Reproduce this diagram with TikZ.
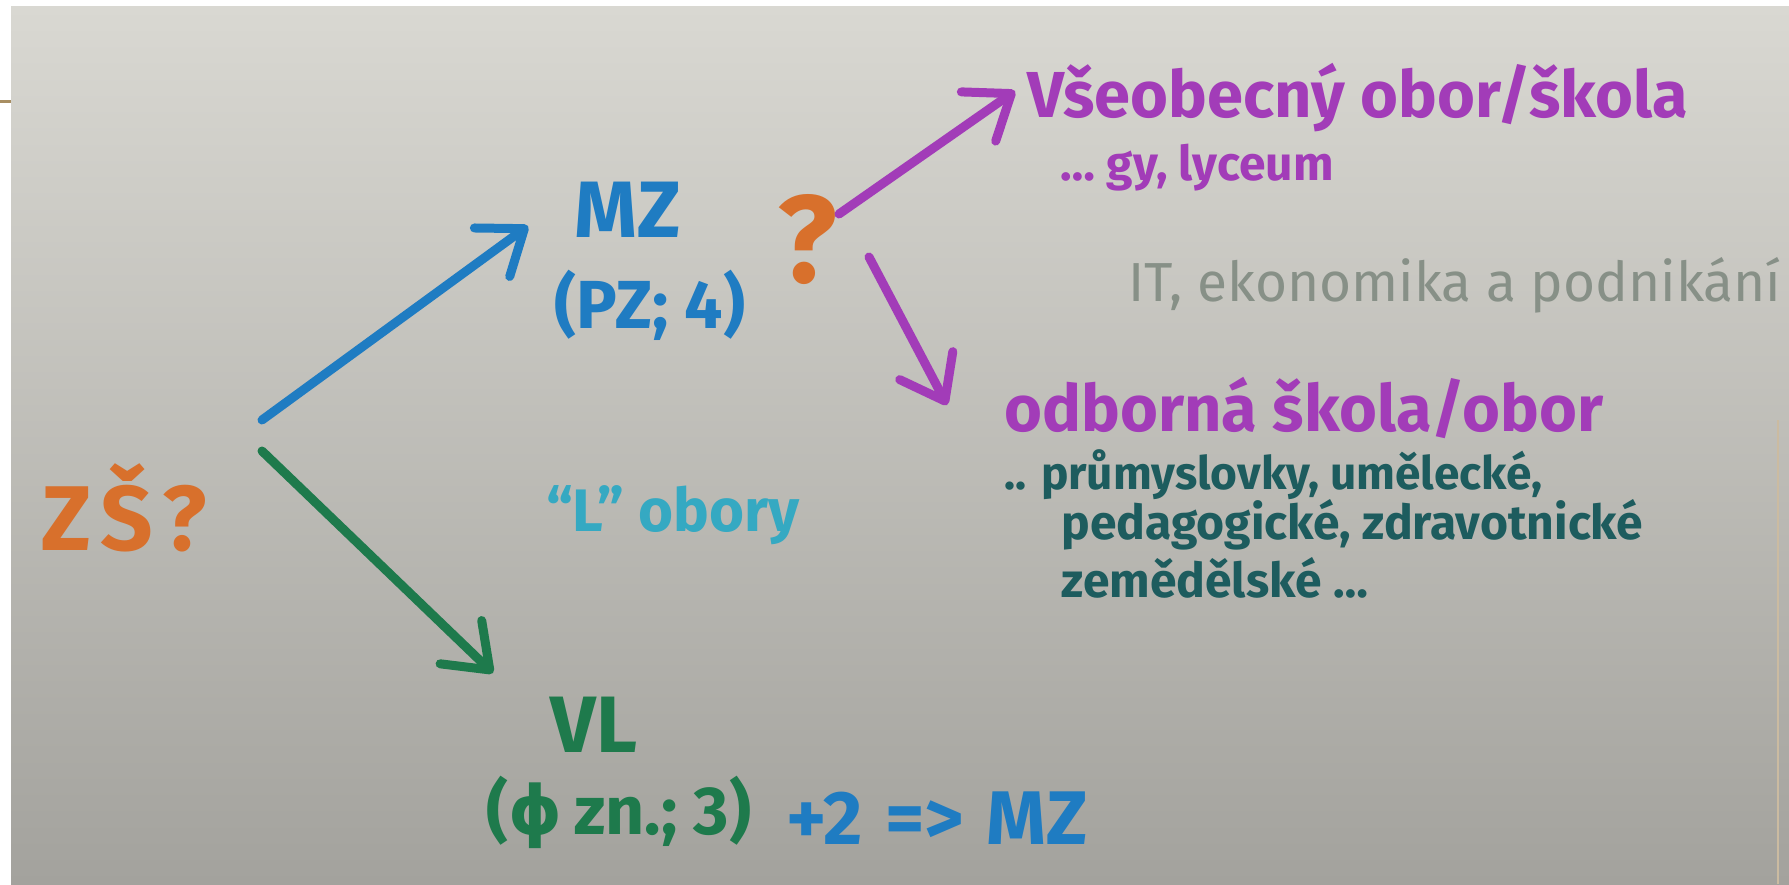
\documentclass[tikz,border=0pt]{standalone}
\usepackage{fontspec}
\setmainfont{Fira Sans}
\newfontfamily\symf{DejaVu Sans}
\usetikzlibrary{arrows.meta,calc}
\definecolor{bgtop}{HTML}{D9D8D2}
\definecolor{bgmid}{HTML}{CBC9C4}
\definecolor{bgbot}{HTML}{A3A29D}
\definecolor{penorange}{HTML}{D8702C}
\definecolor{penblue}{HTML}{1F7CC2}
\definecolor{penpurple}{HTML}{A23CB8}
\definecolor{pengreen}{HTML}{1E7A4C}
\definecolor{pendteal}{HTML}{1D5C5E}
\definecolor{penlteal}{HTML}{35A9C2}
\definecolor{pengrey}{HTML}{879087}
\definecolor{frame}{HTML}{A88E62}
\tikzset{
  hand/.style={inner sep=0pt, font=\bfseries},
  penarrow/.style={line width=4.5pt, line cap=round,
    -{Straight Barb[length=20pt,width=30pt,line cap=round,line join=round]}},
}
\begin{document}
\begin{tikzpicture}[x=0.5pt,y=-0.5pt]
\useasboundingbox (0,0) rectangle (1789,884);
\fill[white] (0,0) rectangle (1789,884);
\shade[top color=bgtop, middle color=bgmid, bottom color=bgbot] (11,6) rectangle (1789,884);
\draw[frame, line width=1.5pt] (0,101) -- (11,101);
\draw[frame!60, line width=1pt] (1778,420) -- (1778,884);

% nodes
\node[hand, text=penorange, font=\bfseries\fontsize{46}{50}\selectfont\addfontfeature{LetterSpace=12}] (zs) at (124,508) {ZŠ?};
\node[hand, text=penblue, font=\bfseries\fontsize{40}{44}\selectfont] (mz) at (628,210) {MZ};
\node[hand, text=penblue, font=\bfseries\fontsize{34}{40}\selectfont] (pz) at (650,305) {(PZ; 4)};
\node[hand, text=penorange, font=\bfseries\fontsize{62}{66}\selectfont] (q) at (807,240) {?};
\node[hand, text=penpurple, anchor=west, font=\bfseries\fontsize{32.5}{36}\selectfont] (vseob) at (1027,98) {Všeobecný obor/škola};
\node[hand, text=penpurple, anchor=west, font=\bfseries\fontsize{24}{28}\selectfont] (gy) at (1060,168) {… gy, lyceum};
\node[hand, text=pengrey, anchor=west, font=\fontsize{27.5}{30}\selectfont] (it) at (1128,285) {IT, ekonomika a podnikání};
\node[hand, text=penpurple, anchor=west, font=\bfseries\fontsize{32.5}{36}\selectfont] (odb) at (1004,408) {odborná škola/obor};
\node[hand, text=pendteal, anchor=west, font=\bfseries\fontsize{23}{26}\selectfont] (prum) at (1004,475) {.. průmyslovky, umělecké,};
\node[hand, text=pendteal, anchor=west, font=\bfseries\fontsize{24}{26}\selectfont] (ped) at (1061,525) {pedagogické, zdravotnické};
\node[hand, text=pendteal, anchor=west, font=\bfseries\fontsize{24}{26}\selectfont] (zem) at (1061,578) {zemědělské …};
\node[hand, text=penlteal, font=\bfseries\fontsize{30}{34}\selectfont] (lob) at (673,515) {“L” obory};
\node[hand, text=pengreen, font=\bfseries\fontsize{40}{44}\selectfont] (vl) at (594,725) {VL};
\node[hand, text=pengreen, font=\bfseries\fontsize{34}{38}\selectfont] (vlp) at (619,812) {({\symf ϕ}\,zn.; 3)};
\node[hand, text=penblue, anchor=west, font=\bfseries\fontsize{38}{42}\selectfont] (plus) at (786,818) {+2\hspace{0.3em}=>\hspace{0.3em}MZ};

% connectors
\draw[penarrow, penblue] ([shift={(138,-88)}]zs.center) -- ([shift={(-100,16)}]mz.center);
\draw[penarrow, pengreen] ([shift={(138,-57)}]zs.center) -- ([shift={(-101,-52)}]vl.center);
\draw[penarrow, penpurple] ([shift={(32,-26)}]q.center) -- ([shift={(-12,-7)}]vseob.west);
\draw[penarrow, penpurple] ([shift={(62,17)}]q.center) -- ([shift={(-57,-3)}]odb.west);
\end{tikzpicture}
\end{document}
